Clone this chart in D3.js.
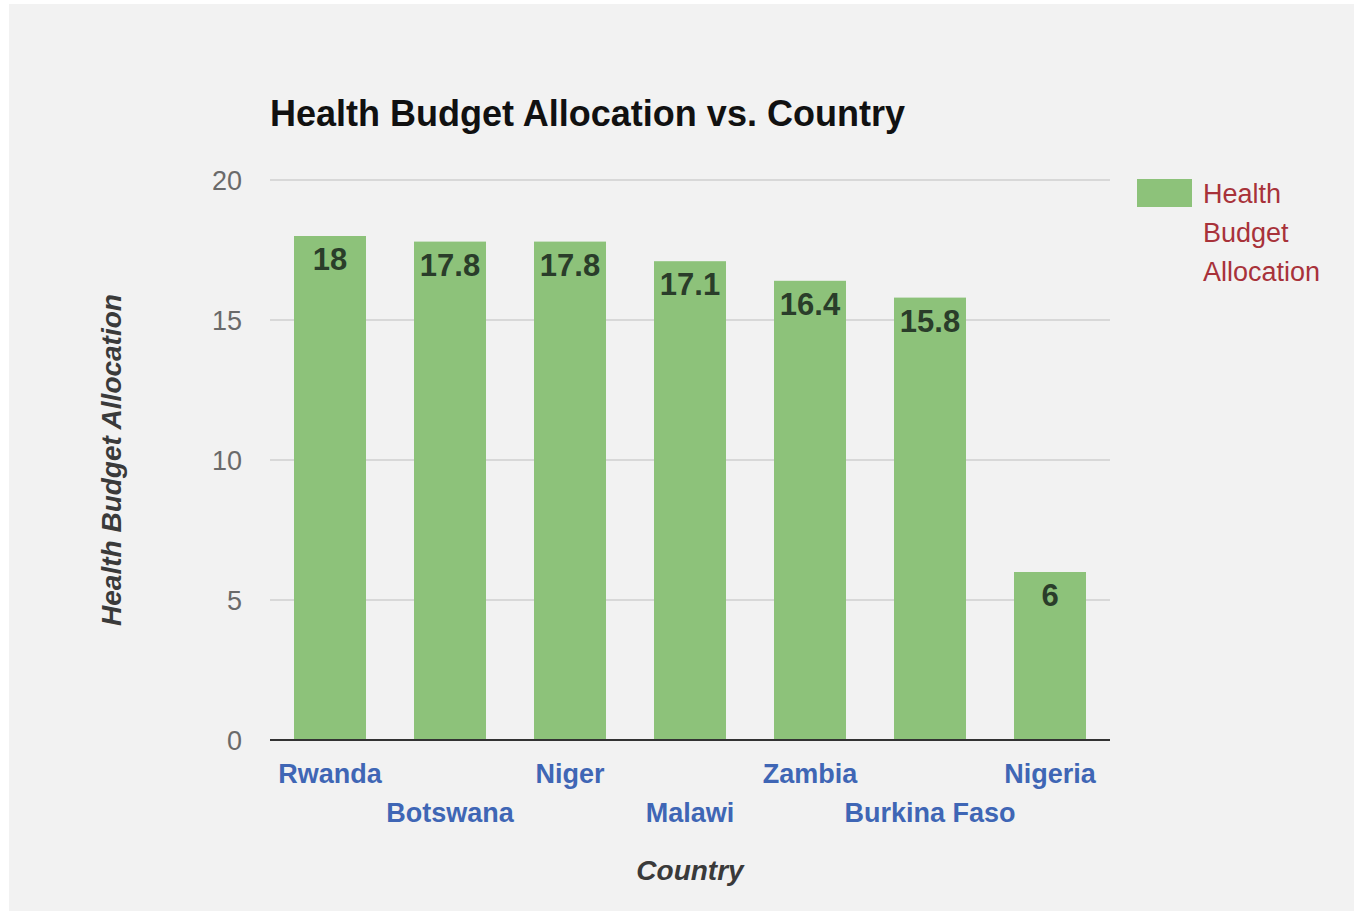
<!DOCTYPE html>
<html>
<head>
<meta charset="utf-8">
<script src="https://cdn.jsdelivr.net/npm/d3@7"></script>
<style>
  html, body { margin: 0; padding: 0; background: #ffffff; }
  svg { display: block; }
  text { font-family: "Liberation Sans", Arial, sans-serif; }
</style>
</head>
<body>
<svg id="chart" width="1354" height="911"></svg>
<script>
const categories = ["Rwanda", "Botswana", "Niger", "Malawi", "Zambia", "Burkina Faso", "Nigeria"];
const values = [18, 17.8, 17.8, 17.1, 16.4, 15.8, 6];
const yTicks = [0, 5, 10, 15, 20];
const seriesName = "Health Budget Allocation";
const legendLines = ["Health", "Budget", "Allocation"];
const titleText = "Health Budget Allocation vs. Country";
const xTitle = "Country";
const yTitle = "Health Budget Allocation";

const svg = d3.select("#chart");
const W = 1354, H = 911;
const plot = { left: 270, right: 1110, top: 180, bottom: 740 };

svg.append("rect").attr("x", 9).attr("y", 4).attr("width", W - 9).attr("height", H - 4).attr("fill", "#f2f2f2");

const x = d3.scaleBand().domain(categories).range([plot.left, plot.right]).paddingInner(0.4).paddingOuter(0.2);
const y = d3.scaleLinear().domain([0, 20]).range([plot.bottom, plot.top]);

// gridlines
svg.append("g").selectAll("line").data(yTicks.filter(t => t > 0)).join("line")
  .attr("x1", plot.left).attr("x2", plot.right)
  .attr("y1", d => y(d)).attr("y2", d => y(d))
  .attr("stroke", "#cfcfcf").attr("stroke-width", 1.5);

// y tick labels
svg.append("g").selectAll("text").data(yTicks).join("text")
  .attr("x", 242).attr("y", d => y(d)).attr("dy", "0.36em")
  .attr("text-anchor", "end")
  .attr("font-size", 27).attr("fill", "#6a6a6a")
  .text(d => d);

// bars
svg.append("g").selectAll("rect").data(values).join("rect")
  .attr("x", (d, i) => x(categories[i]))
  .attr("width", x.bandwidth())
  .attr("y", d => y(d))
  .attr("height", d => y(0) - y(d))
  .attr("fill", "#8dc27a");

// value labels
svg.append("g").selectAll("text").data(values).join("text")
  .attr("x", (d, i) => x(categories[i]) + x.bandwidth() / 2)
  .attr("y", d => y(d) + 34)
  .attr("text-anchor", "middle")
  .attr("font-size", 31).attr("font-weight", "bold").attr("fill", "#2a3d2a")
  .text(d => d);

// baseline axis
svg.append("line")
  .attr("x1", plot.left).attr("x2", plot.right)
  .attr("y1", y(0)).attr("y2", y(0))
  .attr("stroke", "#333333").attr("stroke-width", 2);

// x category labels (staggered)
svg.append("g").selectAll("text").data(categories).join("text")
  .attr("x", d => x(d) + x.bandwidth() / 2)
  .attr("y", (d, i) => i % 2 === 0 ? 783 : 822)
  .attr("text-anchor", "middle")
  .attr("font-size", 27).attr("font-weight", "bold").attr("fill", "#3f66b5")
  .text(d => d);

// title
svg.append("text")
  .attr("x", 270).attr("y", 126)
  .attr("font-size", 36).attr("font-weight", "bold").attr("fill", "#111111")
  .attr("textLength", 635).attr("lengthAdjust", "spacingAndGlyphs")
  .text(titleText);

// x axis title
svg.append("text")
  .attr("x", (plot.left + plot.right) / 2).attr("y", 880)
  .attr("text-anchor", "middle")
  .attr("font-size", 28).attr("font-weight", "bold").attr("font-style", "italic").attr("fill", "#3a3a3a")
  .text(xTitle);

// y axis title
svg.append("text")
  .attr("transform", `translate(121, ${(plot.top + plot.bottom) / 2}) rotate(-90)`)
  .attr("text-anchor", "middle")
  .attr("font-size", 28).attr("font-weight", "bold").attr("font-style", "italic").attr("fill", "#3a3a3a")
  .text(yTitle);

// legend
const lg = svg.append("g");
lg.append("rect").attr("x", 1137).attr("y", 179).attr("width", 55).attr("height", 28).attr("fill", "#8dc27a");
lg.selectAll("text").data(legendLines).join("text")
  .attr("x", 1203).attr("y", (d, i) => 203 + i * 39)
  .attr("font-size", 27).attr("fill", "#a8323a")
  .text(d => d);
</script>
</body>
</html>
